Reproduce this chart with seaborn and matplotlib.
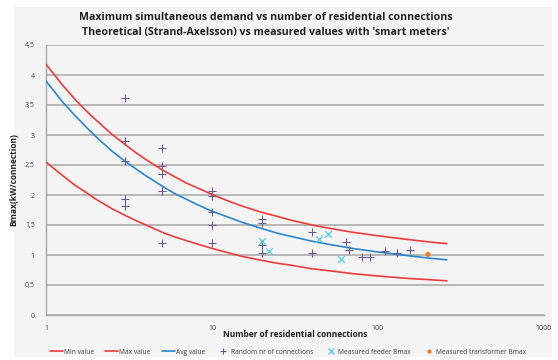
import numpy as np
import pandas as pd
import seaborn as sns
import matplotlib.pyplot as plt
from matplotlib.patches import Rectangle
from matplotlib.lines import Line2D
from matplotlib.ticker import FixedLocator, NullLocator

# Theoretical Strand-Axelsson curves (kW per connection)
curve_n = [1, 1.25, 1.5, 1.75, 2, 2.5, 3, 3.5, 4, 5, 6, 7, 8, 10, 12, 15, 20, 25, 30,
           40, 50, 70, 100, 150, 200, 260]
min_value = [2.55, 2.33, 2.16, 2.04, 1.93, 1.77, 1.66, 1.57, 1.50, 1.38, 1.30, 1.24, 1.19,
             1.11, 1.05, 0.98, 0.91, 0.86, 0.83, 0.77, 0.74, 0.69, 0.65, 0.61, 0.59, 0.57]
max_value = [4.18, 3.84, 3.59, 3.40, 3.25, 3.01, 2.84, 2.70, 2.59, 2.42, 2.30, 2.20, 2.13,
             2.01, 1.92, 1.82, 1.71, 1.64, 1.58, 1.50, 1.45, 1.38, 1.32, 1.26, 1.22, 1.19]
avg_value = [3.90, 3.56, 3.32, 3.13, 2.97, 2.73, 2.56, 2.43, 2.32, 2.15, 2.02, 1.93, 1.85,
             1.73, 1.65, 1.55, 1.44, 1.36, 1.31, 1.23, 1.18, 1.11, 1.05, 0.99, 0.95, 0.92]

# Random number of connections
random_n = [3, 3, 3, 3, 3, 5, 5, 5, 5, 5, 10, 10, 10, 10, 10, 20, 20, 20, 20,
            40, 40, 64, 67, 80, 90, 110, 130, 155]
random_b = [3.62, 2.90, 2.56, 1.94, 1.82, 2.78, 2.49, 2.35, 2.07, 1.20, 2.06, 1.99, 1.71, 1.50, 1.20,
            1.60, 1.53, 1.17, 1.03, 1.39, 1.03, 1.22, 1.08, 0.97, 0.97, 1.07, 1.03, 1.08]

# Measured feeder Bmax
feeder_n = [20, 22, 44, 50, 60]
feeder_b = [1.24, 1.07, 1.27, 1.35, 0.94]

# Measured transformer Bmax
trafo_n = [200]
trafo_b = [1.01]

RED = "#ee3b3b"
BLUE = "#2b86cf"
PLUS = "#6b5b8e"
CYAN = "#55c8e8"
ORANGE = "#f07a20"
TXT = "#404040"

sns.set_style("white")
plt.rcParams["font.family"] = ["Open Sans", "DejaVu Sans"]

fig = plt.figure(figsize=(5.58, 3.6), dpi=100, facecolor="white")
fig.add_artist(Rectangle((14 / 558, 3 / 360), 538 / 558, 350 / 360, transform=fig.transFigure,
                         facecolor="#f4f4f4", edgecolor="none", zorder=-10))
ax = fig.add_axes([46 / 558, 1 - 315 / 360, (544 - 46) / 558, 270 / 360])
ax.set_facecolor("#f4f4f4")

curves = pd.DataFrame({"n": curve_n, "Min value": min_value,
                       "Max value": max_value, "Avg value": avg_value})
sns.lineplot(data=curves, x="n", y="Min value", color=RED, lw=1.2, ax=ax, zorder=3)
sns.lineplot(data=curves, x="n", y="Max value", color=RED, lw=1.2, ax=ax, zorder=3)
sns.lineplot(data=curves, x="n", y="Avg value", color=BLUE, lw=1.2, ax=ax, zorder=3)

sns.scatterplot(x=random_n, y=random_b, marker="+", s=30, color=PLUS, linewidth=0.8, ax=ax, zorder=4)
sns.scatterplot(x=feeder_n, y=feeder_b, marker="x", s=24, color=CYAN, linewidth=0.9, ax=ax, zorder=4)
sns.scatterplot(x=trafo_n, y=trafo_b, marker="o", s=14, color=ORANGE, edgecolor="none", ax=ax, zorder=4)

ax.set_xscale("log")
ax.set_xlim(1, 1000)
ax.set_ylim(0, 4.5)
ax.xaxis.set_major_locator(FixedLocator([1, 10, 100, 1000]))
ax.xaxis.set_minor_locator(NullLocator())
ax.set_xticklabels(["1", "10", "100", "1000"])
yt = [0, 0.5, 1, 1.5, 2, 2.5, 3, 3.5, 4, 4.5]
ax.set_yticks(yt)
ax.set_yticklabels([f"{v:g}".replace(".", ",") for v in yt])
ax.tick_params(axis="both", length=0, labelsize=5, labelcolor=TXT)
ax.tick_params(axis="x", pad=7)
ax.tick_params(axis="y", pad=8)

ax.grid(axis="y", color="#a8a8a8", lw=1.1)
ax.grid(axis="x", visible=False)
ax.set_axisbelow(True)
for s in ["top", "right"]:
    ax.spines[s].set_visible(False)
for s in ["left", "bottom"]:
    ax.spines[s].set_color("#a8a8a8")
    ax.spines[s].set_linewidth(1.0)

ax.set_xlabel("Number of residential connections", fontsize=6, fontweight="bold",
              color="#202020", labelpad=-1)
ax.set_ylabel("Bmax(kW/connection)", fontsize=6, fontweight="bold",
              color="#202020", labelpad=5)

fig.text(266 / 558, 1 - 18 / 360, "Maximum simultaneous demand vs number of residential connections",
         ha="center", va="center", fontsize=7.6, fontweight="bold", color="#202020")
fig.text(266 / 558, 1 - 33 / 360, "Theoretical (Strand-Axelsson) vs measured values with 'smart meters'",
         ha="center", va="center", fontsize=7.6, fontweight="bold", color="#202020")

handles = [
    Line2D([], [], color=RED, lw=1.2, label="Min value"),
    Line2D([], [], color=RED, lw=1.2, label="Max value"),
    Line2D([], [], color=BLUE, lw=1.2, label="Avg value"),
    Line2D([], [], color=PLUS, marker="+", ls="none", markersize=5, mew=0.8,
           label="Random nr of connections"),
    Line2D([], [], color=CYAN, marker="x", ls="none", markersize=4, mew=0.9,
           label="Measured feeder Bmax"),
    Line2D([], [], color=ORANGE, marker="o", ls="none", markersize=3, mew=0,
           label="Measured transformer Bmax"),
]
fig.legend(handles=handles, loc="center", bbox_to_anchor=(288 / 558, 1 - 352 / 360), ncol=6,
           frameon=False, fontsize=4.8, handlelength=2.0, handletextpad=0.1,
           columnspacing=1.7, labelcolor=TXT)

fig.savefig("out.png", dpi=100, facecolor="white")
